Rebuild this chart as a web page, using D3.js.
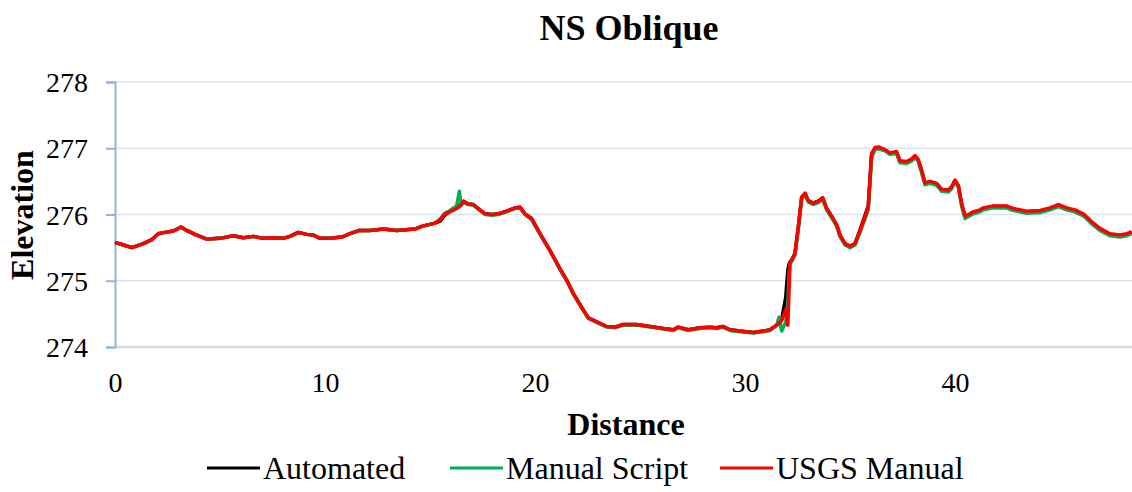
<!DOCTYPE html>
<meta charset="utf-8">
<head>
  <style>
  body { margin: 0; background: #fff; }
  svg text { font-family: "Liberation Serif", "Times New Roman", Tinos, "DejaVu Serif", serif; }
  .title { font-size: 36px; font-weight: bold; }
  .axis-title { font-size: 32px; font-weight: bold; }
  .tick-label { font-size: 28px; }
  .legend text { font-size: 32px; }
  </style>
</head>
<body>
<div id="graph"></div>
<script src="https://d3js.org/d3.v7.min.js"></script>
<script>

// distance along the profile (shared by all three series)
var distance = [
  0.00, 0.40, 0.80, 1.35, 1.75, 2.06, 2.38, 2.78, 3.14, 3.41,
  3.81, 4.37, 5.00, 5.63, 6.11, 6.59, 7.06, 7.54, 8.01, 8.33,
  8.73, 9.13, 9.44, 9.76, 10.24, 10.80, 11.19, 11.63, 12.14, 12.78,
  13.41, 14.29, 14.60, 15.24, 15.48, 15.71, 15.95, 16.27, 16.40, 16.48,
  16.60, 16.82, 17.06, 17.30, 17.62, 17.94, 18.25, 18.65, 19.05, 19.29,
  19.52, 19.84, 20.24, 20.71, 21.19, 21.51, 21.82, 22.22, 22.54, 22.94,
  23.41, 23.81, 24.20, 24.84, 25.48, 26.11, 26.59, 26.82, 27.30, 27.86,
  28.33, 28.65, 28.94, 29.29, 29.76, 30.40, 30.87, 31.19, 31.51, 31.62,
  31.75, 31.94, 32.04, 32.10, 32.14, 32.22, 32.38, 32.54, 32.70, 32.86,
  33.01, 33.25, 33.49, 33.70, 33.89, 34.13, 34.37, 34.52, 34.76, 35.00,
  35.24, 35.48, 35.71, 35.87, 36.03, 36.19, 36.35, 36.67, 36.90, 37.22,
  37.38, 37.70, 37.94, 38.10, 38.25, 38.41, 38.57, 38.81, 39.13, 39.37,
  39.68, 39.84, 40.00, 40.16, 40.32, 40.48, 40.71, 40.87, 41.19, 41.35,
  41.82, 42.46, 42.78, 43.41, 44.05, 44.52, 44.92, 45.32, 45.71, 46.11,
  46.51, 46.90, 47.38, 47.86, 48.18, 48.41
];

var automated = [
  275.58, 275.54, 275.50, 275.56, 275.62, 275.71, 275.73, 275.75, 275.81, 275.76,
  275.70, 275.63, 275.64, 275.68, 275.65, 275.67, 275.64, 275.65, 275.64, 275.67,
  275.73, 275.70, 275.69, 275.64, 275.64, 275.66, 275.71, 275.76, 275.76, 275.78,
  275.76, 275.78, 275.82, 275.87, 275.90, 275.99, 276.05, 276.11, 276.14, 276.16,
  276.20, 276.16, 276.15, 276.09, 276.01, 276.00, 276.01, 276.05, 276.10, 276.11,
  276.01, 275.94, 275.71, 275.46, 275.18, 275.01, 274.81, 274.60, 274.44, 274.38,
  274.31, 274.30, 274.34, 274.34, 274.31, 274.28, 274.26, 274.30, 274.26, 274.29,
  274.30, 274.29, 274.31, 274.26, 274.24, 274.22, 274.24, 274.26, 274.33, 274.36,
  274.42, 274.75, 275.16, 275.25, 275.28, 275.31, 275.41, 275.81, 276.26, 276.32,
  276.21, 276.17, 276.20, 276.25, 276.09, 275.97, 275.84, 275.69, 275.56, 275.52,
  275.56, 275.77, 275.98, 276.13, 276.91, 277.00, 277.01, 276.97, 276.92, 276.94,
  276.80, 276.79, 276.83, 276.88, 276.82, 276.66, 276.47, 276.49, 276.46, 276.37,
  276.36, 276.41, 276.51, 276.43, 276.15, 275.97, 276.00, 276.03, 276.06, 276.09,
  276.12, 276.12, 276.08, 276.04, 276.05, 276.09, 276.14, 276.09, 276.06, 276.00,
  275.88, 275.78, 275.70, 275.68, 275.70, 275.73
];

var manualScript = [
  275.58, 275.54, 275.50, 275.56, 275.62, 275.71, 275.73, 275.75, 275.81, 275.76,
  275.70, 275.63, 275.64, 275.68, 275.65, 275.67, 275.64, 275.65, 275.64, 275.67,
  275.73, 275.70, 275.69, 275.64, 275.64, 275.66, 275.71, 275.76, 275.76, 275.78,
  275.76, 275.78, 275.82, 275.87, 275.93, 276.02, 276.06, 276.13, 276.35, 276.15,
  276.18, 276.15, 276.14, 276.08, 276.00, 275.99, 276.00, 276.04, 276.09, 276.10,
  276.00, 275.92, 275.70, 275.45, 275.17, 275.00, 274.80, 274.59, 274.43, 274.37,
  274.30, 274.29, 274.33, 274.33, 274.30, 274.27, 274.25, 274.29, 274.25, 274.28,
  274.29, 274.28, 274.30, 274.25, 274.23, 274.21, 274.23, 274.25, 274.33, 274.45,
  274.24, 274.38, 274.60, 275.10, 275.24, 275.29, 275.39, 275.78, 276.23, 276.30,
  276.19, 276.15, 276.18, 276.23, 276.07, 275.95, 275.82, 275.67, 275.54, 275.50,
  275.54, 275.73, 275.93, 276.07, 276.86, 276.98, 276.99, 276.96, 276.91, 276.92,
  276.78, 276.77, 276.81, 276.86, 276.80, 276.63, 276.45, 276.47, 276.44, 276.35,
  276.34, 276.39, 276.49, 276.41, 276.12, 275.94, 275.98, 276.01, 276.04, 276.07,
  276.10, 276.10, 276.06, 276.02, 276.03, 276.07, 276.12, 276.07, 276.04, 275.98,
  275.86, 275.76, 275.68, 275.66, 275.68, 275.71
];

var usgsManual = [
  275.58, 275.54, 275.50, 275.56, 275.62, 275.71, 275.73, 275.75, 275.81, 275.76,
  275.70, 275.63, 275.64, 275.68, 275.65, 275.67, 275.64, 275.65, 275.64, 275.67,
  275.73, 275.70, 275.69, 275.64, 275.64, 275.66, 275.71, 275.76, 275.76, 275.78,
  275.76, 275.78, 275.82, 275.87, 275.92, 276.01, 276.04, 276.09, 276.12, 276.14,
  276.20, 276.16, 276.15, 276.09, 276.01, 276.00, 276.01, 276.05, 276.10, 276.11,
  276.01, 275.94, 275.71, 275.46, 275.18, 275.01, 274.81, 274.60, 274.44, 274.38,
  274.31, 274.30, 274.34, 274.34, 274.31, 274.28, 274.26, 274.30, 274.26, 274.29,
  274.30, 274.29, 274.31, 274.26, 274.24, 274.22, 274.24, 274.26, 274.33, 274.36,
  274.40, 274.56, 274.33, 274.86, 275.26, 275.31, 275.41, 275.81, 276.26, 276.32,
  276.21, 276.17, 276.20, 276.25, 276.09, 275.97, 275.84, 275.69, 275.56, 275.52,
  275.56, 275.76, 275.96, 276.11, 276.92, 277.01, 277.02, 276.98, 276.93, 276.95,
  276.81, 276.80, 276.84, 276.89, 276.83, 276.67, 276.48, 276.50, 276.47, 276.38,
  276.37, 276.42, 276.52, 276.44, 276.16, 275.98, 276.01, 276.04, 276.07, 276.10,
  276.13, 276.13, 276.09, 276.05, 276.06, 276.10, 276.15, 276.10, 276.07, 276.01,
  275.89, 275.79, 275.71, 275.69, 275.71, 275.74
];

var seriesNames = ["Automated", "Manual Script", "USGS Manual"];
var seriesColors = ["#000000", "#00b050", "#ff0000"];
var xTicks = [0, 10, 20, 30, 40];
var yTicks = [274, 275, 276, 277, 278];

var series = [automated, manualScript, usgsManual];

var W = 1132, H = 492;
var margin = {top: 82, right: 0, bottom: 145, left: 115};

var svg = d3.select("#graph").append("svg")
  .attr("width", W)
  .attr("height", H);

var x = d3.scaleLinear()
  .domain([0, 48.43])
  .range([margin.left, W - margin.right]);

var y = d3.scaleLinear()
  .domain([274, 278])
  .range([H - margin.bottom, margin.top]);

// horizontal gridlines
svg.append("g").selectAll("line")
  .data(yTicks)
  .enter().append("line")
  .attr("x1", margin.left)
  .attr("x2", W)
  .attr("y1", function(d){ return y(d); })
  .attr("y2", function(d){ return y(d); })
  .attr("stroke", function(d){ return d == 274 ? "#d6dce5" : "#d9e2f3"; })
  .attr("stroke-width", function(d){ return d == 274 ? 2.5 : 1.5; });

// y axis
var Yaxis = d3.axisLeft(y).tickValues(yTicks).tickSize(9).tickFormat(d3.format("d"));
var yg = svg.append("g")
  .attr("transform", "translate(" + margin.left + ",0)")
  .call(Yaxis)
  .attr("font-family", null)
  .attr("font-size", null);
yg.select(".domain").attr("stroke", "#8eb4e3").attr("stroke-width", 2);
yg.selectAll(".tick line").attr("stroke", "#8eb4e3").attr("stroke-width", 2);
yg.selectAll(".tick text")
  .attr("class", "tick-label")
  .attr("x", -27)
  .attr("dy", "0.34em")
  .attr("fill", "#000");

// x axis labels only
var Xaxis = d3.axisBottom(x).tickValues(xTicks).tickSize(0).tickFormat(d3.format("d"));
var xg = svg.append("g")
  .attr("transform", "translate(0," + y(274) + ")")
  .call(Xaxis)
  .attr("font-family", null)
  .attr("font-size", null);
xg.select(".domain").remove();
xg.selectAll(".tick text")
  .attr("class", "tick-label")
  .attr("y", 45)
  .attr("dy", 0)
  .attr("fill", "#000");

// lines
var line = d3.line()
  .x(function(d, i){ return x(distance[i]); })
  .y(function(d){ return y(d); });

svg.append("g").selectAll("path")
  .data(series)
  .enter().append("path")
  .attr("fill", "none")
  .attr("stroke", function(d, i){ return seriesColors[i]; })
  .attr("stroke-width", 3.5)
  .attr("stroke-linejoin", "round")
  .attr("d", line);

// titles
svg.append("text")
  .attr("class", "title")
  .attr("x", 629)
  .attr("y", 40)
  .attr("text-anchor", "middle")
  .text("NS Oblique");

svg.append("text")
  .attr("class", "axis-title")
  .attr("x", 626)
  .attr("y", 435)
  .attr("text-anchor", "middle")
  .text("Distance");

svg.append("text")
  .attr("class", "axis-title")
  .attr("transform", "translate(33,215) rotate(-90)")
  .attr("text-anchor", "middle")
  .text("Elevation");

// legend
var legendX = [207, 450, 720];
var legend = svg.append("g").attr("class", "legend");
var items = legend.selectAll("g")
  .data(seriesNames)
  .enter().append("g")
  .attr("transform", function(d, i){ return "translate(" + legendX[i] + ",468)"; });

items.append("line")
  .attr("x1", 0)
  .attr("x2", 53)
  .attr("stroke", function(d, i){ return seriesColors[i]; })
  .attr("stroke-width", 3);

items.append("text")
  .attr("x", 56)
  .attr("dy", "0.34em")
  .text(function(d){ return d; });

</script>
</body>
</html>
